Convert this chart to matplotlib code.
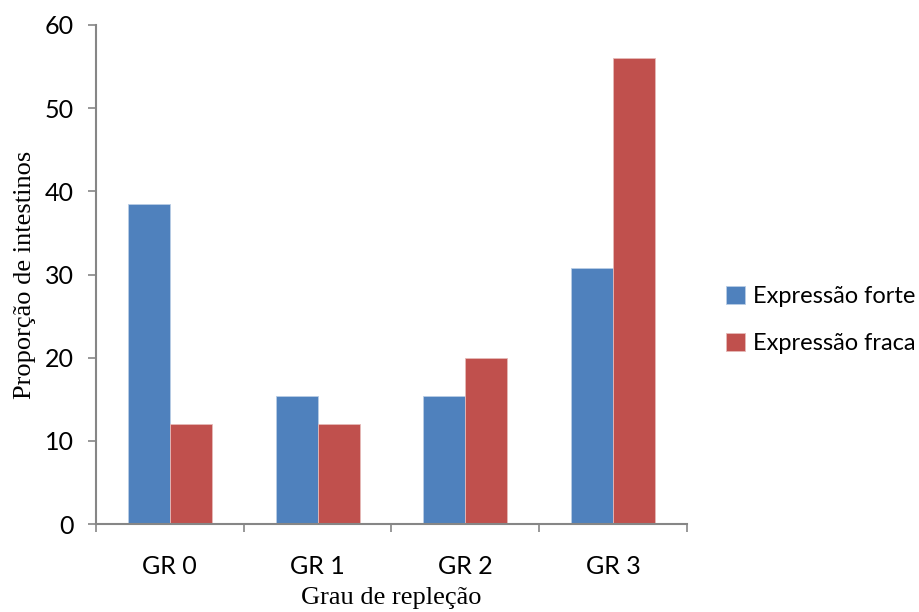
import matplotlib
matplotlib.use("Agg")
import matplotlib.pyplot as plt
import numpy as np

categories = ["GR 0", "GR 1", "GR 2", "GR 3"]
forte = [38.5, 15.4, 15.4, 30.8]
fraca = [12.0, 12.0, 20.0, 56.0]
series_names = ["Expressão forte", "Expressão fraca"]
yticks = [0, 10, 20, 30, 40, 50, 60]

fig = plt.figure(figsize=(9.2, 6.12), dpi=100)
ax = fig.add_axes([96/920, 1-524/612, (687-96)/920, (524-25)/612])

x = np.arange(len(categories))
w = 0.284
gray = "#868686"
ax.bar(x - w/2, forte, w, color="#4F81BD", edgecolor="#B9CDE5", linewidth=0.6, label=series_names[0])
ax.bar(x + w/2, fraca, w, color="#C0504D", edgecolor="#E6B9B8", linewidth=0.6, label=series_names[1])

ax.set_xlim(-0.5, len(categories) - 0.5)
ax.set_ylim(0, 60)
ax.set_yticks(yticks)
ax.set_xticks(x)
ax.set_xticklabels(categories)
ax.set_xticks(np.arange(len(categories) + 1) - 0.5, minor=True)

for s in ["top", "right"]:
    ax.spines[s].set_visible(False)
for s in ["left", "bottom"]:
    ax.spines[s].set_color(gray)
    ax.spines[s].set_linewidth(1.5)

tickfont = "Lato"
ax.tick_params(axis="y", direction="out", length=6, width=1.2, color=gray, labelsize=18, pad=10)
ax.tick_params(axis="x", which="major", length=0, labelsize=18, pad=22)
ax.tick_params(axis="x", which="minor", direction="out", length=6, width=1.2, color=gray)
for lab in ax.get_xticklabels() + ax.get_yticklabels():
    lab.set_fontfamily(tickfont)

ax.set_xlabel("Grau de repleção", fontfamily="Liberation Serif", fontsize=19, labelpad=7)
ax.set_ylabel("Proporção de intestinos", fontfamily="Liberation Serif", fontsize=19, labelpad=6)

leg = fig.legend(loc="center left", bbox_to_anchor=(726/920, 1-320/612), frameon=False,
                 prop={"family": tickfont, "size": 17}, handlelength=0.8, handleheight=0.8,
                 handletextpad=0.35, labelspacing=1.1, borderpad=0, borderaxespad=0)

fig.savefig("out.png", dpi=100)
